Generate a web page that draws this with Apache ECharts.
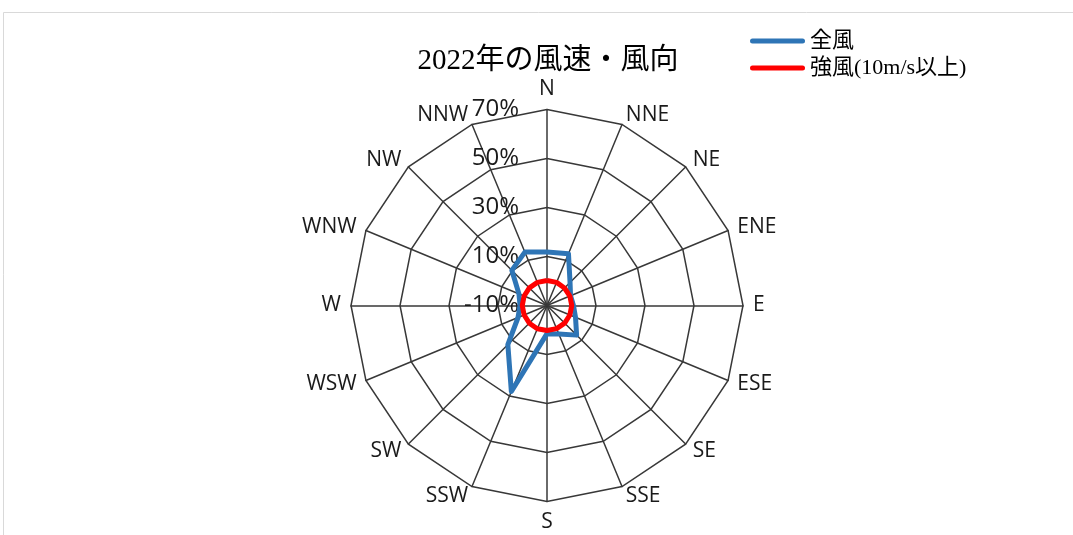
<!DOCTYPE html>
<html>
<head>
<meta charset="utf-8">
<script src="https://cdn.jsdelivr.net/npm/echarts@6/dist/echarts.min.js"></script>
<style>
  html, body { margin: 0; padding: 0; background: #fff; }
  #chart { width: 1073px; height: 535px; }
</style>
</head>
<body>
<div id="chart"></div>
<script>
// 16-point compass directions, clockwise from north
const directions = ['N', 'NNE', 'NE', 'ENE', 'E', 'ESE', 'SE', 'SSE',
                    'S', 'SSW', 'SW', 'WSW', 'W', 'WNW', 'NW', 'NNW'];

// Share of observations per direction (%)
const allWind    = [11.8, 12.9, 3.3, 0.4, 0.8, 2.6, 7.1, 2.6,
                    1.5, 28.0, 12.6, 2.8, 1.0, 2.4, 10.3, 13.6];
const strongWind = [0.2, 0.2, 0.1, 0.1, 0.1, 0.1, 0.2, 0.2,
                    0.2, 0.3, 0.2, 0.1, 0.1, 0.1, 0.2, 0.2];

const seriesNames = ['全風', '強風(10m/s以上)'];
const titleText = '2022年の風速・風向';

// radial scale: -10% .. 70% in 20% steps
const radialMin = -10;
const radialMax = 70;
const radialStep = 20;

const serifFont = '"Liberation Serif", "Noto Sans CJK JP", serif';
const sansFont = '"Open Sans", "Noto Sans", sans-serif';
const gridColor = '#383838';

// ECharts radar lays indicators out counter-clockwise, so keep N first
// and reverse the rest to get a clockwise compass.
function toRadarOrder(arr) {
  return [arr[0]].concat(arr.slice(1).reverse());
}

const chart = echarts.init(document.getElementById('chart'));

const indicators = toRadarOrder(directions).map(function (d, i) {
  const ind = { name: d, min: radialMin, max: radialMax };
  if (i === 0) {
    ind.axisLabel = {
      show: true,
      margin: 28,
      fontSize: 24,
      fontFamily: sansFont,
      color: '#1a1a1a',
      formatter: function (v) { return v + '%'; }
    };
  }
  return ind;
});

chart.setOption({
  animation: false,
  backgroundColor: '#fff',
  graphic: [{
    type: 'rect',
    silent: true,
    shape: { x: 3.5, y: 12.5, width: 1200, height: 1000 },
    style: { fill: 'none', stroke: '#d9d9d9', lineWidth: 1 }
  }],
  title: {
    text: titleText,
    left: 543,
    textAlign: 'center',
    top: 40,
    textStyle: {
      fontFamily: serifFont,
      fontSize: 29,
      fontWeight: 'normal',
      color: '#000',
      lineHeight: 32
    }
  },
  legend: {
    orient: 'vertical',
    left: 745,
    top: 25,
    itemWidth: 55,
    itemHeight: 5,
    itemGap: 5,
    selectedMode: false,
    icon: 'path://M2.5,0 H52.5 A2.5,2.5 0 0 1 52.5,5 H2.5 A2.5,2.5 0 0 1 2.5,0 Z',
    data: seriesNames,
    textStyle: {
      fontFamily: serifFont,
      fontSize: 22,
      lineHeight: 22,
      color: '#000',
      padding: [0, 0, 0, 0]
    }
  },
  radar: {
    center: [547, 305.5],
    radius: 196,
    startAngle: 90,
    splitNumber: (radialMax - radialMin) / radialStep,
    shape: 'polygon',
    nameGap: 10,
    axisName: {
      fontFamily: sansFont,
      fontSize: 21,
      color: '#1a1a1a'
    },
    axisLine: { lineStyle: { color: gridColor, width: 1.5 } },
    splitLine: { lineStyle: { color: gridColor, width: 1.5 } },
    splitArea: { show: false },
    axisTick: { show: false },
    axisLabel: { show: false },
    indicator: indicators
  },
  series: [
    {
      type: 'radar',
      symbol: 'none',
      lineStyle: { width: 5, color: '#2E75B6', join: 'round' },
      itemStyle: { color: '#2E75B6' },
      data: [{ name: seriesNames[0], value: toRadarOrder(allWind) }]
    },
    {
      type: 'radar',
      symbol: 'none',
      lineStyle: { width: 5, color: '#FF0000', join: 'round' },
      itemStyle: { color: '#FF0000' },
      data: [{ name: seriesNames[1], value: toRadarOrder(strongWind) }]
    }
  ]
});
</script>
</body>
</html>
